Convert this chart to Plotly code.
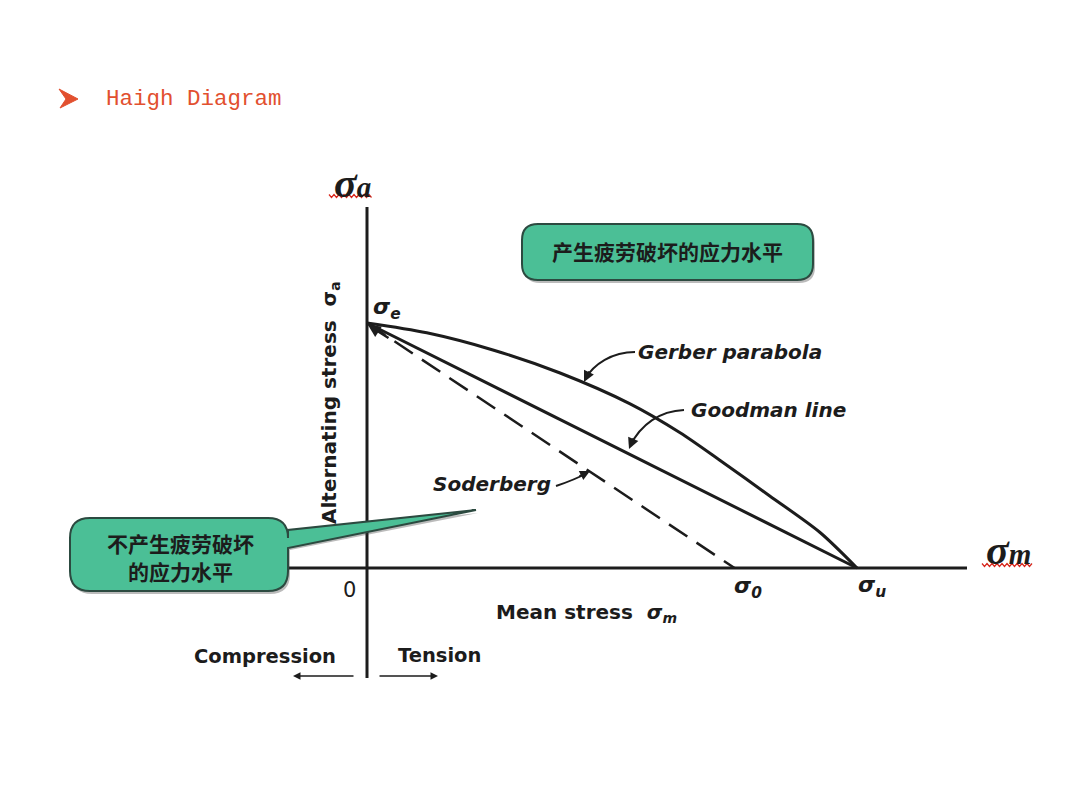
import plotly.graph_objects as go

# ---------------- data ----------------
gerber_mean = [0, 12.2, 25.7, 39.4, 53.7, 63.9, 72.0, 82.2, 92.4, 100]
gerber_alt = [50, 48.0, 44.5, 39.8, 33.5, 27.6, 22.0, 14.7, 7.3, 0]
goodman_mean = [0, 100]
goodman_alt = [50, 0]
soderberg_mean = [0, 75]
soderberg_alt = [50, 0]

# ---------------- page geometry ----------------
W, H = 1076, 807
PAGE_MARGIN = 8                # browser body margin around the plot div
X0, Y0, S = 367, 568, 4.9      # page pixel of origin, pixels per stress unit


def P(px, py):
    return ((px - X0) / S, (Y0 - py) / S)


def path_from(points_cmds, close=True):
    out = []
    for cmd, pts in points_cmds:
        s = cmd
        for (px, py) in pts:
            x, y = P(px, py)
            s += " %.3f,%.3f" % (x, y)
        out.append(s)
    return " ".join(out) + (" Z" if close else "")


def callout(x0, y0, x1, y1, r, wedge=None):
    cmds = [("M", [(x0 + r, y0)]), ("L", [(x1 - r, y0)]),
            ("Q", [(x1, y0), (x1, y0 + r)])]
    if wedge:
        wy1, tip, wy2 = wedge
        cmds += [("L", [(x1, wy1)]), ("L", [tip]), ("L", [(x1, wy2)])]
    cmds += [("L", [(x1, y1 - r)]), ("Q", [(x1, y1), (x1 - r, y1)]),
             ("L", [(x0 + r, y1)]), ("Q", [(x0, y1), (x0, y1 - r)]),
             ("L", [(x0, y0 + r)]), ("Q", [(x0, y0), (x0 + r, y0)])]
    return path_from(cmds)


INK = "#1c1c1c"
GREEN = "#4bbf96"
EDGE = "#2c4a40"
RED = "#e2502f"

fig = go.Figure()

fig.add_trace(go.Scatter(x=gerber_mean, y=gerber_alt, mode="lines",
                         line=dict(color=INK, width=3, shape="spline", smoothing=0.8),
                         hoverinfo="skip", showlegend=False))
fig.add_trace(go.Scatter(x=goodman_mean, y=goodman_alt, mode="lines",
                         line=dict(color=INK, width=3), hoverinfo="skip", showlegend=False))
fig.add_trace(go.Scatter(x=soderberg_mean, y=soderberg_alt, mode="lines",
                         line=dict(color=INK, width=2.5, dash="22px,11px"),
                         hoverinfo="skip", showlegend=False))

shapes = []
# axes
vx0, vy0 = P(367, 207)
vx1, vy1 = P(367, 678)
shapes.append(dict(type="line", x0=vx0, y0=vy0, x1=vx1, y1=vy1,
                   line=dict(color=INK, width=3), layer="below"))
hx0, hy0 = P(285, 568)
hx1, hy1 = P(967, 568)
shapes.append(dict(type="line", x0=hx0, y0=hy0, x1=hx1, y1=hy1,
                   line=dict(color=INK, width=3), layer="below"))


# curved leader lines
def curve(p0, c1, c2, p1):
    a = P(*p0); b = P(*c1); c = P(*c2); d = P(*p1)
    return "M %.3f,%.3f C %.3f,%.3f %.3f,%.3f %.3f,%.3f" % (a + b + c + d)


for pts in [((635, 352), (612, 352), (594, 364), (585, 379)),
            ((684, 410), (660, 411), (641, 424), (630, 446)),
            ((556, 486), (568, 482), (578, 478), (587, 473))]:
    shapes.append(dict(type="path", path=curve(*pts), line=dict(color=INK, width=2)))

# bullet arrow of the title
shapes.append(dict(type="path",
                   path=path_from([("M", [(59, 89)]), ("L", [(78, 99)]),
                                   ("L", [(60, 108)]), ("L", [(66, 99)])]),
                   fillcolor=RED, line=dict(color=RED, width=1)))

# callout boxes (shadow + box)
shapes.append(dict(type="path", path=callout(524, 227, 815, 283, 16),
                   fillcolor="rgba(60,60,60,0.35)", line=dict(width=0)))
shapes.append(dict(type="path", path=callout(522, 224, 813, 280, 16), fillcolor=GREEN,
                   line=dict(color=EDGE, width=2)))
shapes.append(dict(type="path",
                   path=callout(72, 521, 290, 594, 20, wedge=(532, (478, 513), 550)),
                   fillcolor="rgba(60,60,60,0.35)", line=dict(width=0)))
shapes.append(dict(type="path",
                   path=callout(70, 518, 288, 591, 20, wedge=(530, (476, 510), 548)),
                   fillcolor=GREEN, line=dict(color=EDGE, width=2)))


# red wavy spell-check underlines
def wavy(xa, xb, yc):
    pts = []
    x = xa
    up = True
    while x <= xb:
        pts.append((x, yc - 1.5 if up else yc + 1.5))
        up = not up
        x += 2.5
    s = "M %.3f,%.3f" % P(*pts[0])
    for p in pts[1:]:
        s += " L %.3f,%.3f" % P(*p)
    return s


shapes.append(dict(type="path", path=wavy(329, 373, 196), line=dict(color="#d8261b", width=1.2)))
shapes.append(dict(type="path", path=wavy(982, 1032, 565), line=dict(color="#d8261b", width=1.2)))

ann = []


def text(px, py, t, size, family="DejaVu Sans", color=INK, xanchor="center", angle=0):
    x, y = P(px, py)
    ann.append(dict(x=x, y=y, text=t, showarrow=False, xanchor=xanchor, yanchor="middle",
                    textangle=angle, font=dict(family=family, size=size, color=color)))


def arrowhead(hx, hy, dx, dy, width=2, size=1.0):
    x, y = P(hx, hy)
    ann.append(dict(x=x, y=y, ax=dx, ay=dy, text="", showarrow=True, arrowhead=2,
                    arrowsize=size, arrowwidth=width, arrowcolor=INK, standoff=0))


# title
text(104, 99, "Haigh Diagram", 22.5, family="Liberation Mono", color=RED, xanchor="left")

# axis symbols
text(352, 183, "<b><i><span style='font-size:42px'>σ</span>a</i></b>", 29, family="Liberation Serif")
text(1008, 550, "<b><i><span style='font-size:42px'>σ</span>m</i></b>", 29, family="Liberation Serif")

# axis titles
text(330, 403, "<b>Alternating stress  σ<sub>a</sub></b>", 20, angle=-90)
text(494, 613, "<b>Mean stress  <i>σ<sub>m</sub></i></b>", 20, xanchor="left")
text(349, 590, "0", 21)
text(192, 656, "<b>Compression</b>", 19.5, xanchor="left")
text(396, 655, "<b>Tension</b>", 19.5, xanchor="left")

# point labels
text(387, 308, "<b><i>σ<sub>e</sub></i></b>", 22)
text(748, 587, "<b><i>σ<sub>0</sub></i></b>", 22)
text(872, 586, "<b><i>σ<sub>u</sub></i></b>", 22)

# curve labels
text(636, 352, "<b><i>Gerber parabola</i></b>", 20, xanchor="left")
text(689, 410, "<b><i>Goodman line</i></b>", 20, xanchor="left")
text(431, 484, "<b><i>Soderberg</i></b>", 20, xanchor="left")

# callout texts
text(667, 251, "<b>产生疲劳破坏的应力水平</b>", 21, family="Noto Sans CJK SC")
text(180, 543, "<b>不产生疲劳破坏</b>", 21, family="Noto Sans CJK SC")
text(180, 571, "<b>的应力水平</b>", 21, family="Noto Sans CJK SC")

# arrowheads
arrowhead(584, 382, 6, -12, width=2, size=1.1)
arrowhead(629, 449, 5, -12, width=2, size=1.1)
arrowhead(590, 471, -12, 6, width=2, size=1.0)
arrowhead(368, 325, 22, 14, width=2.5, size=1.0)
arrowhead(293, 676, 62, 0, width=1.5, size=1.0)
arrowhead(438, 676, -60, 0, width=1.5, size=1.0)

# the plot div sits inside the page body margin
div_w, div_h = W - 2 * PAGE_MARGIN, H - 2 * PAGE_MARGIN
xr = [(PAGE_MARGIN - X0) / S, (PAGE_MARGIN + div_w - X0) / S]
yr = [(Y0 - PAGE_MARGIN - div_h) / S, (Y0 - PAGE_MARGIN) / S]

fig.update_layout(
    width=div_w, height=div_h,
    margin=dict(l=0, r=0, t=0, b=0),
    paper_bgcolor="white", plot_bgcolor="white",
    xaxis=dict(range=xr, visible=False, fixedrange=True),
    yaxis=dict(range=yr, visible=False, fixedrange=True),
    shapes=shapes, annotations=ann, showlegend=False,
)

fig.write_html("out.html")
